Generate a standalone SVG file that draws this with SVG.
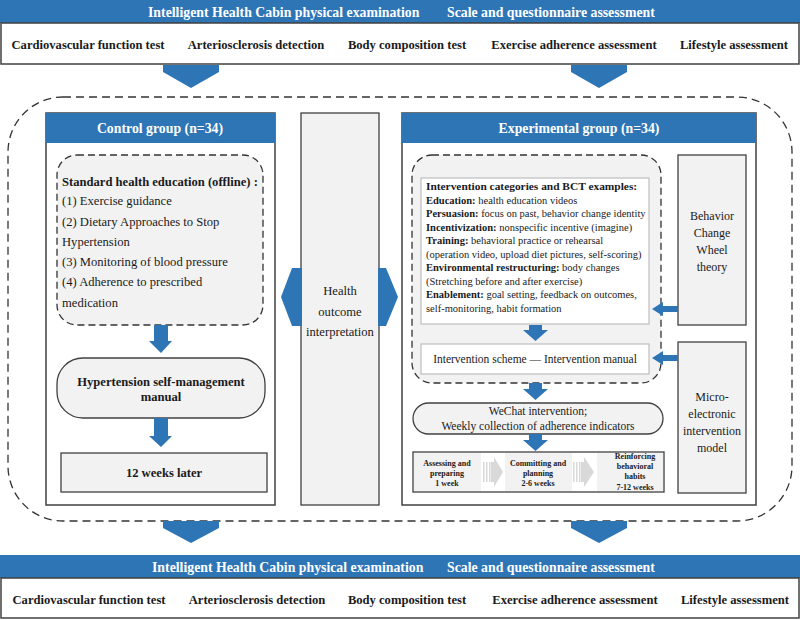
<svg xmlns="http://www.w3.org/2000/svg" width="800" height="620" viewBox="0 0 800 620">
<defs>
<style>
.blue{fill:#2e75b6}
.box{fill:#ffffff;stroke:#404040;stroke-width:1.5}
.gbox{fill:#f2f2f2;stroke:#404040;stroke-width:1.3}
.wbox{fill:#ffffff;stroke:#bfbfbf;stroke-width:1.2}
.dash{fill:#f2f2f2;stroke:#333333;stroke-width:1.3;stroke-dasharray:7 4}
.outer{fill:none;stroke:#333333;stroke-width:1.3;stroke-dasharray:8 5}
text{font-family:"Liberation Serif","Times New Roman",serif;fill:#1a1a1a}
.hd{font-size:13.8px;font-weight:bold;fill:#ffffff}
.row{font-size:12.6px;font-weight:bold;text-anchor:middle}
.b{font-weight:bold}
.t{font-size:12.6px}
.c{text-anchor:middle}
.bct{font-size:10.5px}
.ph{font-size:8px;font-weight:bold;text-anchor:middle}
.chev{fill:#d9d9d9}
</style>
</defs>

<g id="top-assessment">
<rect class="blue" x="0" y="0" width="800" height="23"/>
<rect class="box" x="1" y="23" width="798" height="41"/>
<text class="hd" x="148" y="16.5">Intelligent Health Cabin physical examination</text>
<text class="hd" x="447" y="16.5">Scale and questionnaire assessment</text>
<text class="row" x="88" y="48.5">Cardiovascular function test</text>
<text class="row" x="256" y="48.5">Arteriosclerosis detection</text>
<text class="row" x="407" y="48.5">Body composition test</text>
<text class="row" x="574" y="48.5">Exercise adherence assessment</text>
<text class="row" x="734" y="48.5">Lifestyle assessment</text>
</g>

<g id="outer-frame">
<rect class="outer" x="8" y="97" width="784" height="424" rx="55" ry="55"/>
</g>

<g id="control-group">
<rect class="box" x="46" y="113" width="229" height="392"/>
<rect class="blue" x="46" y="113" width="229" height="30"/>
<text class="hd c" x="160" y="133">Control group (n=34)</text>
</g>

<g id="standard-education">
<rect class="dash" x="57" y="155" width="206" height="170" rx="20" ry="20"/>
<text class="t b" x="62" y="185.5">Standard health education (offline) :</text>
<text class="t" x="62" y="205">(1) Exercise guidance</text>
<text class="t" x="62" y="225.5">(2) Dietary Approaches to Stop</text>
<text class="t" x="62" y="246">Hypertension</text>
<text class="t" x="62" y="266">(3) Monitoring of blood pressure</text>
<text class="t" x="62" y="286">(4) Adherence to prescribed</text>
<text class="t" x="62" y="306.5">medication</text>
</g>

<g id="self-management-manual">
<rect class="gbox" x="57" y="358" width="208" height="60" rx="26" ry="26"/>
<text class="t b c" x="161" y="385.5">Hypertension self-management</text>
<text class="t b c" x="161" y="400.5">manual</text>
</g>

<g id="twelve-weeks">
<rect class="gbox" x="61" y="453" width="206" height="39"/>
<text class="t b c" x="164" y="476.5">12 weeks later</text>
</g>

<g id="health-outcome">
<rect class="gbox" x="301" y="113" width="78" height="392"/>
<text class="t c" x="340" y="294.5">Health</text>
<text class="t c" x="340" y="315.5">outcome</text>
<text class="t c" x="340" y="335.5">interpretation</text>
</g>

<g id="experimental-group">
<rect class="box" x="402" y="113" width="354" height="392"/>
<rect class="blue" x="402" y="113" width="354" height="30"/>
<text class="hd c" x="579" y="133">Experimental group (n=34)</text>
</g>

<g id="bct-frame">
<rect class="dash" x="412" y="155" width="249" height="228" rx="20" ry="20"/>
</g>

<g id="bct-examples">
<rect class="wbox" x="421" y="178" width="228" height="146"/>
<text class="b" x="426" y="190" style="font-size:11.4px">Intervention categories and BCT examples:</text>
<text class="bct" x="426" y="203.7"><tspan class="b">Education:</tspan> health education videos</text>
<text class="bct" x="426" y="217.2"><tspan class="b">Persuasion:</tspan> focus on past, behavior change identity</text>
<text class="bct" x="426" y="230.7"><tspan class="b">Incentivization:</tspan> nonspecific incentive (imagine)</text>
<text class="bct" x="426" y="244.2"><tspan class="b">Training:</tspan> behavioral practice or rehearsal</text>
<text class="bct" x="426" y="257.7">(operation video, upload diet pictures, self-scoring)</text>
<text class="bct" x="426" y="271.2"><tspan class="b">Environmental restructuring:</tspan> body changes</text>
<text class="bct" x="426" y="284.7">(Stretching before and after exercise)</text>
<text class="bct" x="426" y="298.2"><tspan class="b">Enablement:</tspan> goal setting, feedback on outcomes,</text>
<text class="bct" x="426" y="311.7">self-monitoring, habit formation</text>
</g>

<g id="intervention-scheme">
<rect class="wbox" x="421" y="344" width="228" height="30"/>
<text class="c" x="535" y="363" style="font-size:11.5px">Intervention scheme — Intervention manual</text>
</g>

<g id="wechat">
<rect class="gbox" x="413" y="403" width="250" height="31" rx="15.5" ry="15.5"/>
<text class="c" x="538" y="415" style="font-size:11.5px">WeChat intervention;</text>
<text class="c" x="538" y="430" style="font-size:11.5px">Weekly collection of adherence indicators</text>
</g>

<g id="phases">
<rect class="box" x="413" y="452" width="251" height="40" style="stroke-width:1.3"/>
<rect x="414" y="453" width="67" height="38" fill="#f2f2f2"/>
<rect x="505" y="453" width="67" height="38" fill="#f2f2f2"/>
<rect x="597" y="453" width="66" height="38" fill="#f2f2f2"/>
<g class="chev">
<rect x="483" y="462" width="1.5" height="20"/>
<rect x="486" y="462" width="1.5" height="20"/>
<rect x="489" y="462" width="1.5" height="20"/>
<polygon points="491,462 494,462 494,457 503,472 494,487 494,482 491,482"/>
<rect x="573" y="462" width="1.5" height="20"/>
<rect x="576" y="462" width="1.5" height="20"/>
<rect x="579" y="462" width="1.5" height="20"/>
<polygon points="581,462 584,462 584,457 594,472 584,487 584,482 581,482"/>
</g>
<text class="ph" x="447" y="466">Assessing and</text>
<text class="ph" x="447" y="476">preparing</text>
<text class="ph" x="447" y="486">1 week</text>
<text class="ph" x="538" y="466">Committing and</text>
<text class="ph" x="538" y="476">planning</text>
<text class="ph" x="538" y="486">2-6 weeks</text>
<text class="ph" x="635" y="459">Reinforcing</text>
<text class="ph" x="635" y="469">behavioral</text>
<text class="ph" x="635" y="479">habits</text>
<text class="ph" x="635" y="490">7-12 weeks</text>
</g>

<g id="bcw-theory">
<rect class="gbox" x="678" y="155" width="68" height="170"/>
<text class="c" x="712" y="220" style="font-size:12px">Behavior</text>
<text class="c" x="712" y="237" style="font-size:12px">Change</text>
<text class="c" x="712" y="254" style="font-size:12px">Wheel</text>
<text class="c" x="712" y="271" style="font-size:12px">theory</text>
</g>

<g id="micro-electronic">
<rect class="gbox" x="678" y="342" width="68" height="151"/>
<text class="c" x="712" y="401" style="font-size:12px">Micro-</text>
<text class="c" x="712" y="418" style="font-size:12px">electronic</text>
<text class="c" x="712" y="435" style="font-size:12px">intervention</text>
<text class="c" x="712" y="452" style="font-size:12px">model</text>
</g>

<g id="bottom-assessment">
<rect class="blue" x="0" y="555" width="800" height="23"/>
<rect class="box" x="1" y="578" width="798" height="40"/>
<text class="hd" x="152" y="571.5">Intelligent Health Cabin physical examination</text>
<text class="hd" x="447" y="571.5">Scale and questionnaire assessment</text>
<text class="row" x="89" y="603.5">Cardiovascular function test</text>
<text class="row" x="257" y="603.5">Arteriosclerosis detection</text>
<text class="row" x="407" y="603.5">Body composition test</text>
<text class="row" x="575" y="603.5">Exercise adherence assessment</text>
<text class="row" x="735" y="603.5">Lifestyle assessment</text>
</g>

<g id="connectors" class="blue">
<polygon points="163,65 219,65 219,72 191,88 163,72"/>
<polygon points="571,65 627,65 627,72 599,88 571,72"/>
<polygon points="163,521 219,521 219,528 191,543 163,528"/>
<polygon points="571,521 627,521 627,528 599,543 571,528"/>
<polygon points="302,268 292,268 281,297 292,326 302,326"/>
<polygon points="378,268 386,268 398,297 386,326 378,326"/>
<polygon points="154,325 168,325 168,341 172,341 161,353 149,341 154,341"/>
<polygon points="154,418 168,418 168,436 172,436 161,447 149,436 154,436"/>
<polygon points="529,325 542,325 542,330 548,330 535.5,341 523,330 529,330"/>
<polygon points="529,383 542,383 542,389 548,389 535.5,400 523,389 529,389"/>
<polygon points="529,434 542,434 542,440 548,440 535.5,451 523,440 529,440"/>
<polygon points="678,306 663,306 663,302 652,309 663,316 663,312 678,312"/>
<polygon points="678,355 663,355 663,351 652,358 663,365 663,361 678,361"/>
</g>
</svg>
